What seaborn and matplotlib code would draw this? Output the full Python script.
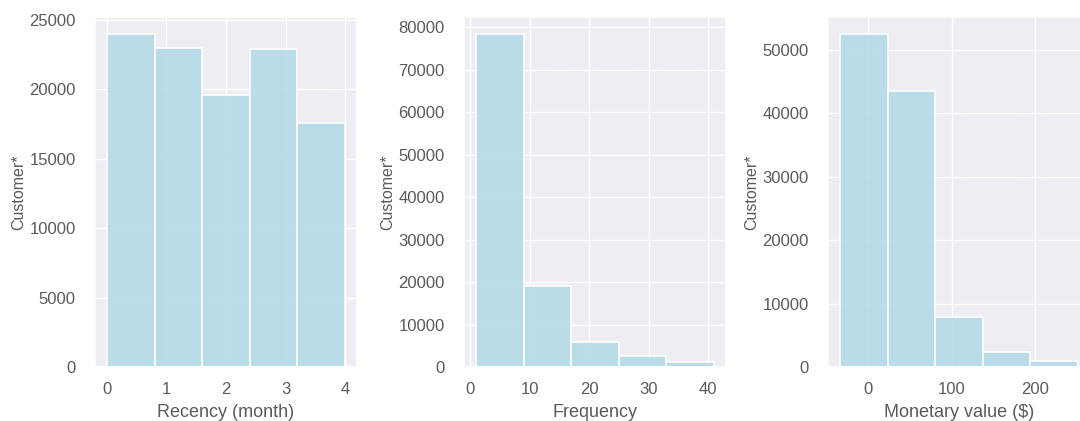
import numpy as np
import pandas as pd
import matplotlib
matplotlib.use("Agg")
import matplotlib.pyplot as plt
import seaborn as sns

# Binned customer counts for the three RFM features
recency_edges = [0.0, 0.8, 1.6, 2.4, 3.2, 4.0]
recency_counts = [24000, 23000, 19600, 22900, 17600]

frequency_edges = [1, 9, 17, 25, 33, 41]
frequency_counts = [78500, 19000, 5900, 2500, 1100]

monetary_edges = [-34.0, 23.2, 80.4, 137.6, 194.8, 252.0]
monetary_counts = [52500, 43500, 7800, 2400, 1000]

x_labels = ["Recency (month)", "Frequency", "Monetary value ($)"]
y_label = "Customer*"

recency_ticks = [0, 1, 2, 3, 4]
recency_yticks = [0, 5000, 10000, 15000, 20000, 25000]
frequency_ticks = [0, 10, 20, 30, 40]
frequency_yticks = [0, 10000, 20000, 30000, 40000, 50000, 60000, 70000, 80000]
monetary_ticks = [0, 100, 200]
monetary_yticks = [0, 10000, 20000, 30000, 40000, 50000]

sns.set_theme(style="darkgrid", rc={"axes.facecolor": "#ededf3"})
plt.rcParams["font.family"] = ["Liberation Sans", "DejaVu Sans"]
text_color = "#5a5a5a"
plt.rcParams["text.color"] = text_color
plt.rcParams["axes.labelcolor"] = text_color
plt.rcParams["xtick.color"] = text_color
plt.rcParams["ytick.color"] = text_color

fig = plt.figure(figsize=(10.8, 4.21), dpi=100)
W, H = 1080, 421
ax_w = 262 / W
ax_b = 54 / H
ax_h = 350 / H
lefts = [95 / W, 464 / W, 828 / W]
axes = [fig.add_axes([l, ax_b, ax_w, ax_h]) for l in lefts]

panels = [
    (recency_edges, recency_counts, recency_ticks, recency_yticks),
    (frequency_edges, frequency_counts, frequency_ticks, frequency_yticks),
    (monetary_edges, monetary_counts, monetary_ticks, monetary_yticks),
]

for ax, (edges, counts, xt, yt), xl in zip(axes, panels, x_labels):
    centers = [(a + b) / 2 for a, b in zip(edges[:-1], edges[1:])]
    df = pd.DataFrame({"value": centers, "count": counts})
    sns.histplot(data=df, x="value", weights="count", bins=list(edges),
                 color="lightblue", alpha=0.8, edgecolor="white",
                 linewidth=1.2, ax=ax)
    ax.set_xticks(xt)
    ax.set_yticks(yt)
    ax.set_xlabel(xl, fontsize=13, labelpad=5)
    ax.set_ylabel(y_label, fontsize=11.5, labelpad=2)
    ax.tick_params(axis="x", labelsize=12, pad=5)
    ax.tick_params(axis="y", labelsize=12, pad=8)

fig.savefig("out.png", dpi=100)
